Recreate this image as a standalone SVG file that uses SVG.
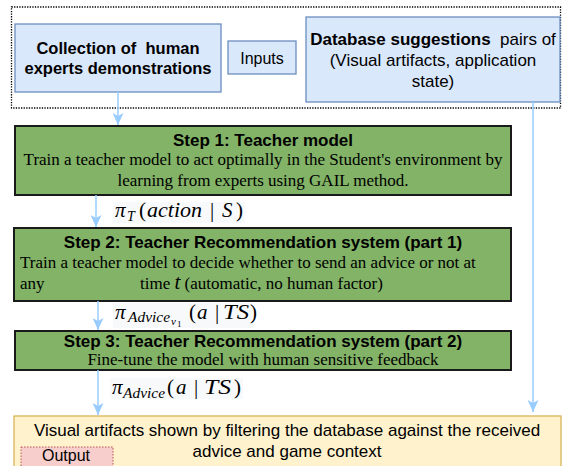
<svg xmlns="http://www.w3.org/2000/svg" width="565" height="466" viewBox="0 0 565 466">
<defs>
<marker id="ah" viewBox="0 0 12 11" refX="12" refY="5.5" markerWidth="12" markerHeight="11" orient="auto" markerUnits="userSpaceOnUse">
<path d="M0,0 L12,5.5 L0,11 L3,5.5 Z" fill="#99ccff"/>
</marker>
<style>
.blue{fill:#dae8fc;stroke:#6c8ebf;stroke-width:1.3}
.green{fill:#82b366;stroke:#1a1a1a;stroke-width:2}
.sans{font-family:"Liberation Sans",Arial,sans-serif;fill:#000}
.serif{font-family:"Liberation Serif","Times New Roman",serif;fill:#000;font-size:17px}
.b{font-weight:bold}
.conn{stroke:#99ccff;stroke-width:1.5;fill:none}
.mi{font-family:"Liberation Serif","Times New Roman",serif;font-style:italic;fill:#000;font-size:21px}
.mu{font-family:"Liberation Serif","Times New Roman",serif;fill:#000;font-size:21px}
.sub{font-family:"Liberation Serif","Times New Roman",serif;font-style:italic;fill:#000;font-size:14px}
.lbl{fill:#f8f9fa}
</style>
</defs>
<rect x="11.5" y="7" width="549" height="101" fill="none" stroke="#000" stroke-width="1.3" stroke-dasharray="1.3,1.3"/>
<g id="collection">
<rect class="blue" x="15" y="24" width="206" height="68"/>
<text class="sans b" x="118" y="54" font-size="16.5" text-anchor="middle" xml:space="preserve">Collection of  human</text>
<text class="sans b" x="118" y="74" font-size="16.5" text-anchor="middle">experts demonstrations</text>
</g>
<g id="inputs">
<rect class="blue" x="228" y="41" width="68" height="33"/>
<text class="sans" x="262" y="64" font-size="16" text-anchor="middle">Inputs</text>
</g>
<g id="database">
<rect class="blue" x="306" y="17" width="254" height="85"/>
<text class="sans" x="433" y="45" font-size="17" text-anchor="middle" xml:space="preserve"><tspan font-weight="bold">Database suggestions</tspan>  pairs of</text>
<text class="sans" x="433" y="66" font-size="17" text-anchor="middle">(Visual artifacts, application</text>
<text class="sans" x="433" y="87" font-size="17" text-anchor="middle">state)</text>
</g>
<g id="step1">
<rect class="green" x="15" y="126" width="496" height="69"/>
<text class="sans b" x="263" y="146" font-size="17" text-anchor="middle">Step 1: Teacher model</text>
<text class="serif" x="263" y="165" text-anchor="middle">Train a teacher model to act optimally in the Student's environment by</text>
<text class="serif" x="263" y="186" text-anchor="middle">learning from experts using GAIL method.</text>
</g>
<g id="step2">
<rect class="green" x="14" y="228" width="497" height="73"/>
<text class="sans b" x="263" y="248" font-size="17" text-anchor="middle">Step 2: Teacher Recommendation system (part 1)</text>
<text class="serif" x="20" y="268">Train a teacher model to decide whether to send an advice or not at</text>
<text class="serif" x="20" y="289">any</text>
<text class="serif" x="140" y="289">time <tspan class="mi">t</tspan> (automatic, no human factor)</text>
</g>
<g id="step3">
<rect class="green" x="15" y="331" width="496" height="39"/>
<text class="sans b" x="263" y="347" font-size="17" text-anchor="middle">Step 3: Teacher Recommendation system (part 2)</text>
<text class="serif" x="263" y="365" text-anchor="middle">Fine-tune the model with human sensitive feedback</text>
</g>
<g id="output">
<rect x="14" y="416" width="547" height="60" fill="#fff2cc" stroke="#d6b656" stroke-width="1.3"/>
<text class="sans" x="287" y="436" font-size="17" text-anchor="middle">Visual artifacts shown by filtering the database against the received</text>
<text class="sans" x="287" y="457" font-size="17" text-anchor="middle">advice and game context</text>
</g>
<g id="output-label">
<rect x="21" y="447" width="92" height="30" fill="#f8cecc" stroke="#b85450" stroke-width="1" stroke-dasharray="1.5,1.5"/>
<text class="sans" x="66" y="461" font-size="16" text-anchor="middle">Output</text>
</g>
<g id="connectors">
<line class="conn" x1="118" y1="92" x2="118" y2="125" marker-end="url(#ah)"/>
<line class="conn" x1="533" y1="102" x2="533" y2="412" marker-end="url(#ah)"/>
<line class="conn" x1="96" y1="195" x2="96" y2="227" marker-end="url(#ah)"/>
<line class="conn" x1="98" y1="301" x2="98" y2="330" marker-end="url(#ah)"/>
<line class="conn" x1="98" y1="370" x2="98" y2="415" marker-end="url(#ah)"/>
</g>
<g id="label-piT">
<rect class="lbl" x="113" y="202" width="132" height="21"/>
<text class="mi" x="115" y="217">π</text>
<text class="sub" x="127" y="221">T</text>
<text class="mu" x="139" y="217">(</text>
<text class="mi" x="147" y="217" textLength="55" lengthAdjust="spacingAndGlyphs">action</text>
<text class="mu" x="210" y="217">|</text>
<text class="mi" x="222" y="217">S</text>
<text class="mu" x="236" y="217">)</text>
</g>
<g id="label-piAdv1">
<rect class="lbl" x="113" y="303" width="140" height="25"/>
<text class="mi" x="115" y="319">π</text>
<text class="sub" x="128" y="322" textLength="42" lengthAdjust="spacingAndGlyphs">Advice</text>
<text class="sub" x="171" y="325" style="font-size:11px">v</text>
<text class="mu" x="177" y="327" style="font-size:9px">1</text>
<text class="mu" x="189" y="319">(</text>
<text class="mi" x="197" y="319">a</text>
<text class="mu" x="215" y="319">|</text>
<text class="mi" x="223" y="319" textLength="26" lengthAdjust="spacingAndGlyphs">TS</text>
<text class="mu" x="250" y="319">)</text>
</g>
<g id="label-piAdv">
<rect class="lbl" x="110" y="378" width="133" height="21"/>
<text class="mi" x="112" y="394">π</text>
<text class="sub" x="123" y="398" textLength="42" lengthAdjust="spacingAndGlyphs">Advice</text>
<text class="mu" x="167" y="394">(</text>
<text class="mi" x="176" y="394">a</text>
<text class="mu" x="194" y="394">|</text>
<text class="mi" x="204" y="394" textLength="27" lengthAdjust="spacingAndGlyphs">TS</text>
<text class="mu" x="234" y="394">)</text>
</g>
</svg>
